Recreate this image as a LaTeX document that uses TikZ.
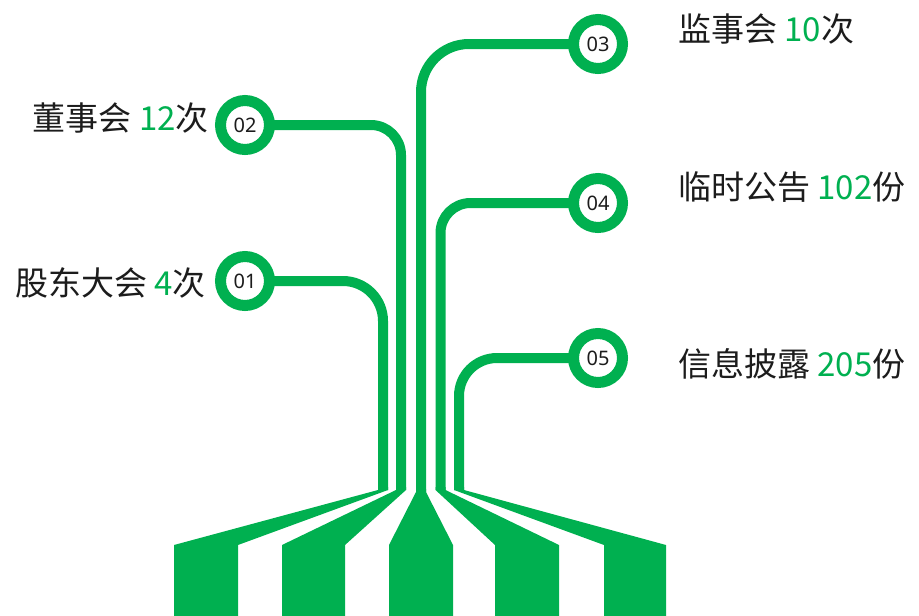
\documentclass[tikz,border=0pt]{standalone}
\usepackage{fontspec}
\setmainfont{Noto Sans}
\newfontfamily\cjk{Noto Sans CJK SC}
\definecolor{gr}{RGB}{0,176,80}
\definecolor{tx}{RGB}{28,28,28}
\begin{document}
\begin{tikzpicture}[x=1pt,y=-1pt,
  ring/.style={circle, draw=gr, fill=white, line width=11pt, minimum size=49pt, inner sep=0pt, font=\fontsize{20}{20}\selectfont, text=tx},
  wire/.style={draw=gr, line width=10pt},
  fan/.style={fill=gr},
  lbl/.style={inner sep=0pt, font=\cjk\fontsize{33}{33}\selectfont, text=tx}]
\useasboundingbox (0,0) rectangle (919,616);

% circle centres
\coordinate (p1) at (245,281);
\coordinate (p2) at (245,125);
\coordinate (p3) at (598,44);
\coordinate (p4) at (598,203);
\coordinate (p5) at (598,358);
% stem ends
\coordinate (e1) at (383,490);
\coordinate (e2) at (401,490);
\coordinate (e3) at (421,492);
\coordinate (e4) at (440.5,490);
\coordinate (e5) at (459,490);

% wires
\draw[wire, rounded corners=40pt] (p1) -| (e1);
\draw[wire, rounded corners=30pt] (p2) -| (e2);
\draw[wire, rounded corners=48pt] (p3) -| (e3);
\draw[wire, rounded corners=30pt] (p4) -| (e4);
\draw[wire, rounded corners=38pt] (p5) -| (e5);

% fans
\fill[fan] (378,487) -- (378,490) -- (174,545) -- (174,616) -- (238,616) -- (238,545) -- (388,490) -- (388,487) -- cycle;
\fill[fan] (396,487) -- (396,490) -- (282,545) -- (282,616) -- (345,616) -- (345,545) -- (406,490) -- (406,487) -- cycle;
\fill[fan] (416,489) -- (416,492) -- (389,545) -- (389,616) -- (453,616) -- (453,545) -- (426,492) -- (426,489) -- cycle;
\fill[fan] (435.5,487) -- (435.5,490) -- (495,545) -- (495,616) -- (559,616) -- (559,545) -- (445.5,490) -- (445.5,487) -- cycle;
\fill[fan] (454,487) -- (454,490) -- (604,545) -- (604,616) -- (666,616) -- (666,545) -- (464,490) -- (464,487) -- cycle;

% circles
\node[ring] (c1) at (p1) {01};
\node[ring] (c2) at (p2) {02};
\node[ring] (c3) at (p3) {03};
\node[ring] (c4) at (p4) {04};
\node[ring] (c5) at (p5) {05};

% labels
\node[lbl, anchor=east] (t1) at (206,283) {股东大会 \textcolor{gr}{4}次};
\node[lbl, anchor=east] (t2) at (209,118) {董事会 \textcolor{gr}{12}次};
\node[lbl, anchor=west] (t3) at (678,29) {监事会 \textcolor{gr}{10}次};
\node[lbl, anchor=west] (t4) at (678,187) {临时公告 \textcolor{gr}{102}份};
\node[lbl, anchor=west] (t5) at (678,364) {信息披露 \textcolor{gr}{205}份};
\end{tikzpicture}
\end{document}
